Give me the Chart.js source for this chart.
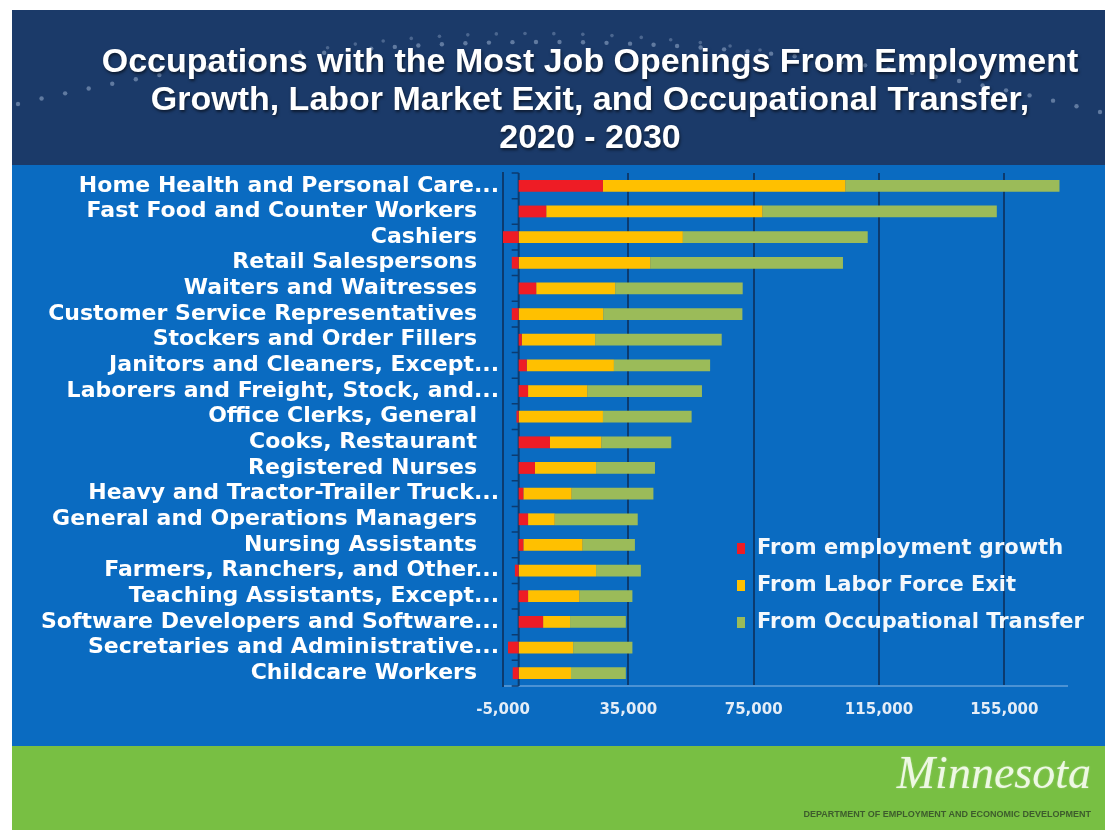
<!DOCTYPE html>
<html>
<head>
<meta charset="utf-8">
<title>Occupations with the Most Job Openings, 2020 - 2030</title>
<script src="https://cdn.jsdelivr.net/npm/chart.js@4.4.1/dist/chart.umd.min.js"></script>
<style>
  html, body { margin: 0; padding: 0; background: #ffffff; }
  #wrap { position: relative; width: 1105px; height: 830px; overflow: hidden; }
  #chart { position: absolute; left: 0; top: 0; }
  .title {
    position: absolute; left: 90px; width: 1000px; top: 41px;
    text-align: center; color: #ffffff;
    font: bold 34px "Liberation Sans", Arial, sans-serif; line-height: 38px;
    text-shadow: 1px 2px 3px rgba(0, 0, 0, 0.55);
  }
  .brand {
    position: absolute; right: 14px; top: 746px;
    font: italic 46px "Liberation Serif", serif; color: #eef8e4;
    text-shadow: 0 0 2px rgba(255, 255, 255, 0.4);
  }
  .dept {
    position: absolute; right: 14px; top: 809px;
    font: bold 9px "Liberation Sans", Arial, sans-serif; color: #3d5c2c;
  }
</style>
</head>
<body>
<div id="wrap">
  <canvas id="chart" width="1105" height="830"></canvas>
  <div class="title">Occupations with the Most Job Openings From Employment<br>Growth, Labor Market Exit, and Occupational Transfer,<br>2020 - 2030</div>
  <div class="brand">Minnesota</div>
  <div class="dept">DEPARTMENT OF EMPLOYMENT AND ECONOMIC DEVELOPMENT</div>
</div>
<script>
// Occupations, top to bottom
const categories = [
  "Home Health and Personal Care...",
  "Fast Food and Counter Workers",
  "Cashiers",
  "Retail Salespersons",
  "Waiters and Waitresses",
  "Customer Service Representatives",
  "Stockers and Order Fillers",
  "Janitors and Cleaners, Except...",
  "Laborers and Freight, Stock, and...",
  "Office Clerks, General",
  "Cooks, Restaurant",
  "Registered Nurses",
  "Heavy and Tractor-Trailer Truck...",
  "General and Operations Managers",
  "Nursing Assistants",
  "Farmers, Ranchers, and Other...",
  "Teaching Assistants, Except...",
  "Software Developers and Software...",
  "Secretaries and Administrative...",
  "Childcare Workers"
];

const seriesNames = ["From employment growth", "From Labor Force Exit", "From Occupational Transfer"];

// Job openings by source, 2020 - 2030
const growth    = [26900, 8800, -5400, -2200, 5600, -2200, 1000, 2600, 3000, -700, 10000, 5200, 1500, 3000, 1500, -1200, 3000, 7800, -3400, -1900];
const laborExit = [77400, 69000, 52400, 42000, 25200, 27000, 23400, 27800, 18900, 26900, 16400, 19500, 15400, 8500, 18900, 24700, 16400, 8600, 17400, 16700];
const transfer  = [68300, 74800, 59000, 61500, 40700, 44400, 40400, 30700, 36600, 28300, 22300, 18800, 26100, 26500, 16700, 14300, 16900, 17800, 18900, 17500];

// Value axis
const xMin = -5000;
const xMax = 175000;
const xTickValues = [-5000, 35000, 75000, 115000, 155000];
const xTickLabels = ["-5,000", "35,000", "75,000", "115,000", "155,000"];

const seriesColors = ["#ee1c25", "#ffc000", "#9bbb59"];
const gridColor = "#0c3b6f";

// Page bands: header, chart panel, footer, plus the dotted arc in the header
const backdrop = {
  id: "backdrop",
  beforeDraw(chart) {
    const ctx = chart.ctx;
    ctx.save();
    ctx.fillStyle = "#ffffff";
    ctx.fillRect(0, 0, chart.width, chart.height);
    ctx.fillStyle = "#1b3a69";
    ctx.fillRect(12, 10, chart.width - 12, 155);
    ctx.fillStyle = "#0a6bc1";
    ctx.fillRect(12, 165, chart.width - 12, 581);
    ctx.fillStyle = "#78bf43";
    ctx.fillRect(12, 746, chart.width - 12, chart.height - 746);

    const arc = (p0, c, p2, n, r, color) => {
      ctx.fillStyle = color;
      for (let k = 0; k <= n; k++) {
        const t = k / n, u = 1 - t;
        const px = u * u * p0[0] + 2 * u * t * c[0] + t * t * p2[0];
        const py = u * u * p0[1] + 2 * u * t * c[1] + t * t * p2[1];
        ctx.beginPath();
        ctx.arc(px, py, r, 0, Math.PI * 2);
        ctx.fill();
      }
    };
    arc([18, 104], [560, -24], [1100, 112], 46, 2.2, "rgba(165,185,215,0.5)");
    arc([300, 52], [520, 16], [760, 50], 16, 1.8, "rgba(165,185,215,0.35)");
    ctx.restore();
  }
};

// Category axis drawn at zero, with short marks between categories
const zeroAxis = {
  id: "zeroAxis",
  beforeDatasetsDraw(chart) {
    const { ctx, chartArea, scales } = chart;
    const x0 = scales.x.getPixelForValue(0);
    ctx.save();
    ctx.strokeStyle = gridColor;
    ctx.lineWidth = 2;
    ctx.beginPath();
    ctx.moveTo(x0, chartArea.top);
    ctx.lineTo(x0, chartArea.bottom);
    ctx.stroke();
    ctx.lineWidth = 1.5;
    ctx.beginPath();
    for (let i = 0; i <= categories.length; i++) {
      const yy = scales.y.getPixelForValue(i - 0.5);
      ctx.moveTo(x0 - 7, yy);
      ctx.lineTo(x0, yy);
    }
    ctx.stroke();
    ctx.restore();
  }
};

// Legend inside the plot panel
const legendBox = {
  id: "legendBox",
  afterDraw(chart) {
    const ctx = chart.ctx;
    ctx.save();
    ctx.font = 'bold 21px "DejaVu Sans", sans-serif';
    ctx.textBaseline = "middle";
    chart.data.datasets.forEach((ds, i) => {
      const cy = 548 + i * 37;
      ctx.fillStyle = ds.backgroundColor;
      ctx.fillRect(737, cy - 5, 8, 11);
      ctx.fillStyle = "#f4f8fc";
      ctx.fillText(ds.label, 757, cy + 1);
    });
    ctx.restore();
  }
};

new Chart(document.getElementById("chart"), {
  type: "bar",
  data: {
    labels: categories,
    datasets: [
      { label: seriesNames[0], data: growth, backgroundColor: seriesColors[0] },
      { label: seriesNames[1], data: laborExit, backgroundColor: seriesColors[1] },
      { label: seriesNames[2], data: transfer, backgroundColor: seriesColors[2] }
    ]
  },
  options: {
    indexAxis: "y",
    responsive: false,
    devicePixelRatio: 1,
    animation: false,
    layout: { padding: { left: 0, right: 38, top: 173, bottom: 104 } },
    datasets: { bar: { barPercentage: 0.46, categoryPercentage: 1 } },
    plugins: { legend: { display: false }, tooltip: { enabled: false } },
    scales: {
      x: {
        stacked: true,
        min: xMin,
        max: xMax,
        afterBuildTicks: (scale) => { scale.ticks = xTickValues.map(v => ({ value: v })); },
        afterFit: (scale) => { scale.height = 40; },
        grid: { color: gridColor, lineWidth: 2, drawTicks: false },
        border: { color: "#4b92d4", width: 2 },
        ticks: {
          color: "#e4edf7",
          font: { family: "DejaVu Sans", weight: "bold", size: 15 },
          padding: 15,
          maxRotation: 0,
          autoSkip: false,
          callback: (v, i) => xTickLabels[i]
        }
      },
      y: {
        stacked: true,
        afterFit: (scale) => { scale.width = 503; },
        grid: { display: false, drawTicks: false },
        border: { color: gridColor, width: 2 },
        ticks: {
          color: "#ffffff",
          font: { family: "DejaVu Sans", weight: "bold", size: 22 },
          padding: 4,
          autoSkip: false,
          // truncated names let their ellipsis hang past the label column
          callback: (v, i) => categories[i].endsWith("...") ? categories[i] : categories[i] + "\u2003"
        }
      }
    }
  },
  plugins: [backdrop, zeroAxis, legendBox]
});
</script>
</body>
</html>
